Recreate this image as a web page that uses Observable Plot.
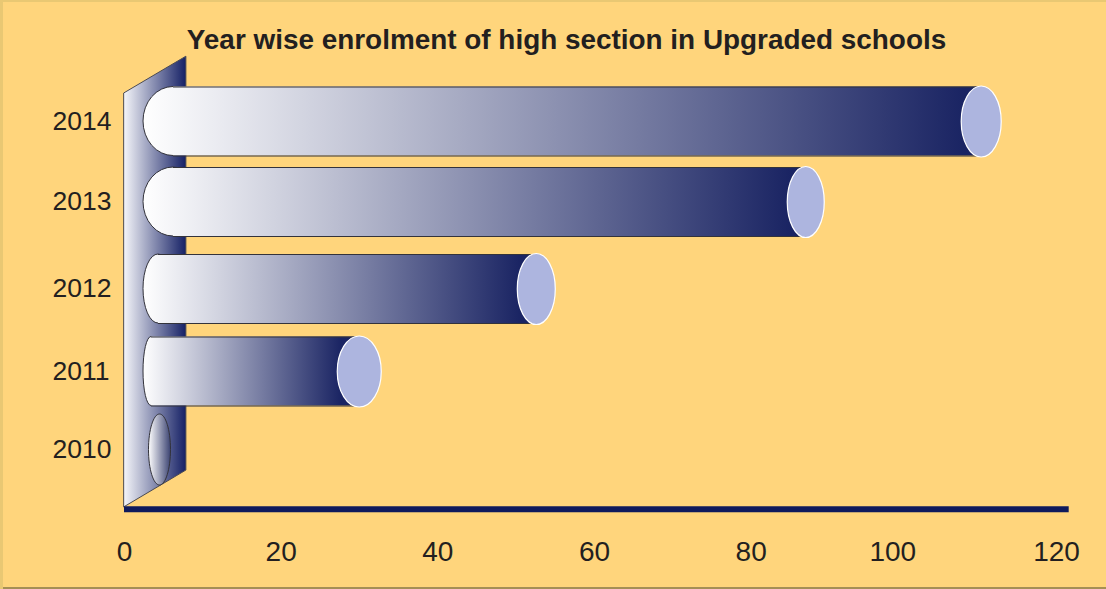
<!DOCTYPE html>
<html>
<head>
<meta charset="utf-8">
<script src="https://cdn.jsdelivr.net/npm/d3@7"></script>
<script src="https://cdn.jsdelivr.net/npm/@observablehq/plot@0.6"></script>
<style>
  html, body { margin: 0; padding: 0; background: #ffd57c; }
  #page { position: relative; width: 1106px; height: 589px; overflow: hidden; box-shadow: inset 3px 2px 0 #e9c873, inset 0 -2px 0 #a58f55; }
  #title { position: absolute; left: 0; top: 24px; width: 1133px; text-align: center; font: bold 27.9px "Liberation Sans", Arial, sans-serif; color: #231f20; white-space: nowrap; }
  svg { display: block; }
</style>
</head>
<body>
<div id="page">
  <div id="title">Year wise enrolment of high section in Upgraded schools</div>
</div>
<script>
// Enrolment per year, in the order of the category axis
const years = [2010, 2011, 2012, 2013, 2014];
const enrolment = [0, 25.5, 48.1, 82.5, 104.9];

// Tick values for the horizontal axis
const xTicks = [0, 20, 40, 60, 80];
const xTicksShifted = [[100, -15], [120, -8]];

// Cylinder look: end-cap radii and the curvature of the near end
const capRx = [11, 22, 19, 18.5, 20];
const noseRx = [0, 8, 15, 30, 30];

const navy = "#0f1a5c";
const capFill = "#adb5df";
const outline = "#33333b";
const halfHeight = 34.5;
const depthShift = 35;   // cylinders sit halfway into the back wall
const noseShift = 19;    // near end of the cylinders

const rows = years.map((year, i) => ({year, value: enrolment[i], rx: capRx[i], nose: noseRx[i]}));

// Back wall outline, expressed in chart units
const wall = [
  {x: 0, y1: 2009.26, y2: 2014.35},
  {x: 7.9, y1: 2009.73, y2: 2014.805}
];

function ns(tag, attrs) {
  const el = document.createElementNS("http://www.w3.org/2000/svg", tag);
  for (const k in attrs) el.setAttribute(k, attrs[k]);
  return el;
}
function gradient(id, x1, x2, from, to) {
  const g = ns("linearGradient", {id, gradientUnits: "userSpaceOnUse", x1, x2, y1: 0, y2: 0});
  g.appendChild(ns("stop", {offset: 0, "stop-color": from}));
  g.appendChild(ns("stop", {offset: 1, "stop-color": to}));
  return g;
}

// Gradient definitions are tied to the x scale so they follow each bar's length.
// The nose and barrel marks carry different dx shifts, so each gets its own copy
// expressed in that mark's local coordinates.
function defs(index, {x}) {
  const d = ns("defs", {});
  d.appendChild(gradient("wallGrad", x(0), x(7.9), "#f4f5f9", "#152065"));
  for (const r of rows) {
    if (r.value > 0) {
      const left = x(0) + noseShift;
      const right = x(r.value) + depthShift - r.rx * 0.8;
      d.appendChild(gradient("nose" + r.year, left - noseShift, right - noseShift, "#ffffff", "#1a2463"));
      d.appendChild(gradient("bar" + r.year, left - depthShift, right - depthShift, "#ffffff", "#1a2463"));
    } else {
      // dots are translated to their own centre
      d.appendChild(gradient("bar" + r.year, -r.rx, r.rx, "#ffffff", "#3b4372"));
    }
  }
  return d;
}

// d3 symbol producing an ellipse with fixed radii
function ellipseSymbol(rx, ry) {
  const k = 0.5523;
  return {
    draw(ctx) {
      ctx.moveTo(-rx, 0);
      ctx.bezierCurveTo(-rx, -k * ry, -k * rx, -ry, 0, -ry);
      ctx.bezierCurveTo(k * rx, -ry, rx, -k * ry, rx, 0);
      ctx.bezierCurveTo(rx, k * ry, k * rx, ry, 0, ry);
      ctx.bezierCurveTo(-k * rx, ry, -rx, k * ry, -rx, 0);
      ctx.closePath();
    }
  };
}

const cylinderMarks = rows.flatMap((r) => {
  if (r.value === 0) {
    return [Plot.dot([r], {
      x: 0, y: "year", dx: depthShift, r: 10,
      symbol: ellipseSymbol(r.rx, 35.5),
      fill: `url(#bar${r.year})`, stroke: outline, strokeWidth: 1
    })];
  }
  const inset = r.nose + noseShift - depthShift;
  return [
    // rounded near end
    Plot.rect([r], {
      x1: 0, x2: 0, y1: "year", y2: "year", dx: noseShift,
      insetRight: -2 * r.nose, insetTop: -halfHeight, insetBottom: -halfHeight,
      rx: r.nose, ry: halfHeight,
      fill: `url(#nose${r.year})`, stroke: outline, strokeWidth: 1
    }),
    // straight barrel
    Plot.rect([r], {
      x1: 0, x2: "value", y1: "year", y2: "year", dx: depthShift,
      insetLeft: inset, insetTop: -halfHeight, insetBottom: -halfHeight,
      fill: `url(#bar${r.year})`
    }),
    Plot.ruleY([r], {y: "year", x1: 0, x2: "value", dx: depthShift, dy: -halfHeight, insetLeft: inset, stroke: outline, strokeWidth: 1}),
    Plot.ruleY([r], {y: "year", x1: 0, x2: "value", dx: depthShift, dy: halfHeight, insetLeft: inset, stroke: outline, strokeWidth: 1}),
    // far end cap
    Plot.dot([r], {
      x: "value", y: "year", dx: depthShift, r: 10,
      symbol: ellipseSymbol(r.rx, 35.5),
      fill: capFill, stroke: "#ffffff", strokeWidth: 1.2
    })
  ];
});

const chart = Plot.plot({
  width: 1106,
  height: 589,
  marginLeft: 124,
  marginRight: 42,
  marginTop: 0,
  marginBottom: 0,
  style: {background: "transparent", overflow: "visible"},
  x: {domain: [0, 120], range: [124, 1064], axis: null},
  y: {domain: years, range: [449, 371, 288.5, 201.5, 121], type: "linear", axis: null},
  marks: [
    defs,
    Plot.areaY(wall, {x: "x", y1: "y1", y2: "y2", fill: "url(#wallGrad)", stroke: "#4a4a52", strokeWidth: 1}),
    ...cylinderMarks,
    // baseline
    Plot.ruleY([2009.26], {x1: 0, x2: 120.6, dy: 2, stroke: navy, strokeWidth: 6}),
    // year labels share a left edge
    Plot.text(years, {x: 0, y: (d) => d, dx: -72, text: (d) => `${d}`, textAnchor: "start", fontSize: 26.5, fill: "#231f20", fontFamily: "Liberation Sans", lineAnchor: "middle"}),
    // horizontal axis labels
    Plot.text(xTicks, {x: (d) => d, y: 2009.26, dy: 45, text: (d) => `${d}`, fontSize: 28, fill: "#231f20", fontFamily: "Liberation Sans", lineAnchor: "middle"}),
    ...xTicksShifted.map(([t, dx]) => Plot.text([t], {x: (d) => d, y: 2009.26, dx, dy: 45, text: (d) => `${d}`, fontSize: 28, fill: "#231f20", fontFamily: "Liberation Sans", lineAnchor: "middle"}))
  ]
});
chart.style.position = "absolute";
chart.style.left = "0";
chart.style.top = "0";
document.getElementById("page").appendChild(chart);
</script>
</body>
</html>
